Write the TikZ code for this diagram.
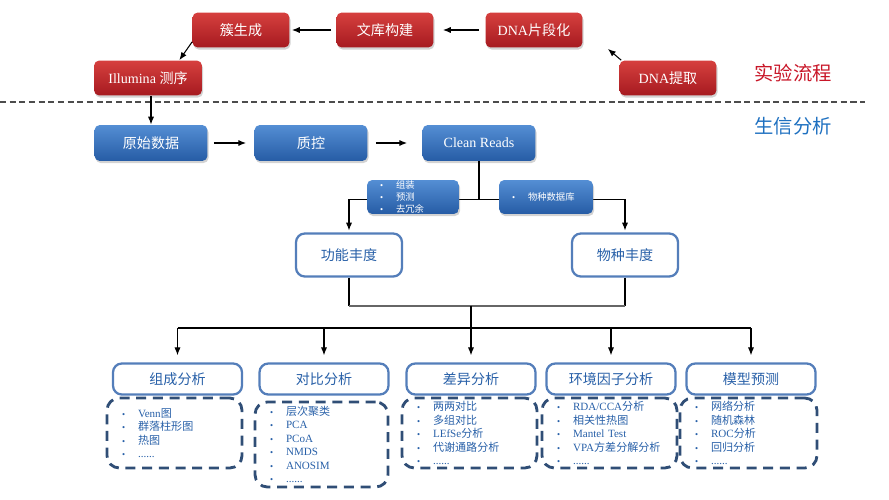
\documentclass[tikz,border=0pt]{standalone}
\usepackage{fontspec}
\setmainfont{Liberation Serif}
\newfontfamily\cjk{Noto Sans CJK SC}
\newcommand\zh[1]{{\cjk #1}}
\newcommand\itm{\makebox[0.32cm][l]{\fontsize{5}{5}\selectfont\textbullet}}
\usetikzlibrary{arrows.meta,shadows}
\definecolor{redtop}{RGB}{214,64,62}
\definecolor{redbot}{RGB}{166,26,32}
\definecolor{bluetop}{RGB}{84,142,212}
\definecolor{bluebot}{RGB}{38,92,165}
\definecolor{lineblue}{RGB}{84,126,186}
\definecolor{textblue}{RGB}{40,96,168}
\definecolor{dashblue}{RGB}{48,78,118}
\definecolor{labelred}{RGB}{200,22,40}
\definecolor{labelblue}{RGB}{30,112,192}
\begin{document}
\begin{tikzpicture}[x=0.02cm,y=-0.02cm,>={Latex[length=4.5pt,width=3.5pt]},
    redbox/.style={rounded corners=3pt,top color=redtop,bottom color=redbot,text=white,
        minimum width=1.94cm,minimum height=0.7cm,font=\fontsize{8}{9}\selectfont,
        drop shadow={opacity=0.35,shadow xshift=0.6pt,shadow yshift=-1.2pt}},
    bluebox/.style={redbox,top color=bluetop,bottom color=bluebot,
        minimum width=2.26cm,minimum height=0.72cm},
    notebox/.style={bluebox,minimum width=1.84cm,minimum height=0.68cm,text width=1.32cm,
        inner xsep=0.26cm,inner ysep=0pt,align=left,font=\fontsize{5.3}{6.8}\selectfont},
    sumbox/.style={draw=lineblue,line width=1.3pt,rounded corners=5pt,fill=white,text=textblue,
        minimum width=2.12cm,minimum height=0.86cm,font=\cjk\fontsize{8}{9}\selectfont},
    titlebox/.style={sumbox,minimum width=2.58cm,minimum height=0.62cm},
    listbox/.style={draw=dashblue,line width=1.6pt,dash pattern=on 5.7pt off 3.8pt,
        rounded corners=7pt,text=textblue,text width=2.1cm,inner xsep=0.3cm,inner ysep=0pt,
        minimum height=1.4cm,align=left,font=\fontsize{6.3}{7.7}\selectfont},
    sepline/.style={draw=black!70,line width=1.2pt,dash pattern=on 3.5pt off 2pt},
    link/.style={line width=0.6pt}]
    \useasboundingbox (0,0) rectangle (889,500);
    \node[redbox] (ext) at (668,78) {DNA\zh{提取}};
    \node[redbox] (frag) at (534,30) {DNA\zh{片段化}};
    \node[redbox] (lib) at (385,30) {\zh{文库构建}};
    \node[redbox] (clu) at (241,30) {\zh{簇生成}};
    \node[redbox,minimum width=2.16cm] (seq) at (148,78) {Illumina \zh{测序}};
    \draw[link,->] ([shift={(2,0)}]ext.north west) -- ([shift={(25,1)}]frag.south east);
    \draw[link,->,shorten <=0.12cm,shorten >=0.18cm] (frag.west) -- (lib.east);
    \draw[link,->,shorten <=0.1cm,shorten >=0.04cm] (lib.west) -- (clu.east);
    \draw[link,->] ([shift={(0,-6)}]clu.south west) -- ([shift={(-23,0)}]seq.north east);
    \draw[sepline] (0,102) -- (865,102);
    \node[text=labelred,font=\cjk\fontsize{11}{13}\selectfont] (lab1) at (793,73) {实验流程};
    \node[text=labelblue,font=\cjk\fontsize{11}{13}\selectfont] (lab2) at (793,126) {生信分析};
    \node[bluebox] (raw) at (151,143) {\zh{原始数据}};
    \node[bluebox] (qc) at (311,143) {\zh{质控}};
    \node[bluebox] (cr) at (479,143) {Clean Reads};
    \draw[link,->] (seq.south -| raw) -- (raw.north);
    \draw[link,->,shorten <=0.12cm,shorten >=0.16cm] (raw.east) -- (qc.west);
    \draw[link,->,shorten <=0.16cm,shorten >=0.3cm] (qc.east) -- (cr.west);
    \node[sumbox] (gn) at (349,255) {功能丰度};
    \node[sumbox] (sp) at (625,255) {物种丰度};
    \draw[link] (cr.south) -- ++(0,38) coordinate (f1);
    \draw[link,->,shorten >=1pt] (f1) -| (gn.north);
    \draw[link,->,shorten >=1pt] (f1) -| (sp.north);
    \node[notebox] (asm) at (413,197) {\itm\zh{组装}\\\itm\zh{预测}\\\itm\zh{去冗余}};
    \node[notebox,text width=1.36cm] (sdb) at (546,197) {\itm\zh{物种数据库}};
    \node[titlebox] (zc) at (177.5,379) {组成分析};
    \node[titlebox] (cmp) at (324,379) {对比分析};
    \node[titlebox] (cy) at (471,379) {差异分析};
    \node[titlebox] (hj) at (611,379) {环境因子分析};
    \node[titlebox] (mx) at (751,379) {模型预测};
    \draw[link] (gn.south) -- ++(0,28) coordinate (m1);
    \draw[link] (sp.south) -- (sp.south |- m1);
    \draw[line width=1.1pt,black!60] (m1) -- (sp.south |- m1);
    \coordinate (f2) at (0,328);
    \draw[link] (m1 -| cy) -- (f2 -| cy);
    \draw[link] (f2 -| zc) -- (f2 -| mx);
    \foreach \n in {zc,cmp,cy,hj,mx}
        \draw[link,->,shorten >=0.14cm] (f2 -| \n) -- (\n.north);
    \node[listbox] (l1) at (174.5,433) {\itm Venn\zh{图}\\\itm\zh{群落柱形图}\\\itm\zh{热图}\\\itm ......};
    \node[listbox,text width=2.06cm,minimum height=1.7cm] (l2) at (321.5,444.5)
        {\itm\zh{层次聚类}\\\itm PCA\\\itm PCoA\\\itm NMDS\\\itm ANOSIM\\\itm ......};
    \node[listbox] (l3) at (469.5,433) {\itm\zh{两两对比}\\\itm\zh{多组对比}\\\itm LEfSe\zh{分析}\\\itm\zh{代谢通路分析}\\\itm ......};
    \node[listbox] (l4) at (609.5,433) {\itm RDA/CCA\zh{分析}\\\itm\zh{相关性热图}\\\itm Mantel Test\\\itm VPA\zh{方差分解分析}\\\itm ......};
    \node[listbox,text width=2.14cm] (l5) at (748.5,433) {\itm\zh{网络分析}\\\itm\zh{随机森林}\\\itm ROC\zh{分析}\\\itm\zh{回归分析}\\\itm ......};
\end{tikzpicture}
\end{document}
